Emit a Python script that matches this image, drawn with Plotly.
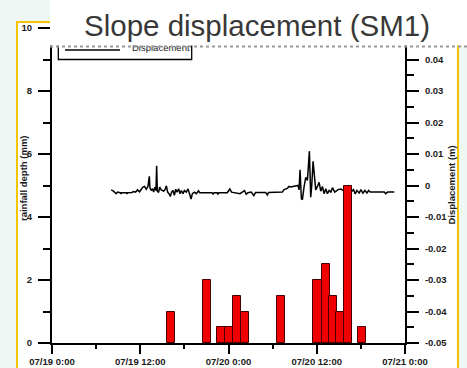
import plotly.graph_objects as go
import pandas as pd

BASE = pd.Timestamp("2013-07-19 00:00")

# Rainfall (hourly) - hours after 07/19 0:00 and depth in mm
rain_hours = [16.2, 21.1, 23.0, 24.1, 25.1, 26.2, 31.1, 36.1, 37.2, 38.2, 39.2, 40.3, 42.2]
rain_mm = [1.0, 2.0, 0.5, 0.5, 1.5, 1.0, 1.5, 2.0, 2.5, 1.5, 1.0, 5.0, 0.5]

# Displacement - hours after 07/19 0:00 and displacement in m
disp_hours = [8.05, 8.36, 8.73, 8.91, 9.27, 9.36, 9.45, 10.09, 10.18, 10.27,
              10.86, 11.09, 11.36, 11.64, 11.91, 12.09, 12.36, 12.59, 12.82, 13.05,
              13.23, 13.32, 13.5, 13.68, 13.82, 14.0, 14.14, 14.23, 14.32, 14.5,
              14.64, 14.86, 15.18, 15.36, 15.55, 15.73, 15.91, 16.09, 16.27, 16.45,
              16.64, 16.82, 17.0, 17.23, 17.41, 17.59, 17.82, 18.0, 18.27, 18.5,
              18.73, 18.91, 19.09, 19.36, 19.64, 19.91, 20.09, 21.77, 21.91, 22.05,
              22.45, 22.55, 22.68, 23.82, 23.95, 24.18, 24.41, 24.73, 25.55, 25.82,
              26.18, 26.41, 26.64, 27.09, 27.45, 27.68, 29.05, 29.27, 29.45, 31.32,
              31.55, 32.0, 32.23, 32.45, 33.14, 33.45, 33.59, 33.73, 33.91, 34.05,
              34.27, 34.5, 34.73, 35.0, 35.18, 35.32, 35.5, 35.68, 35.86, 36.09,
              36.32, 36.55, 36.77, 37.0, 37.23, 37.45, 37.68, 37.91, 38.14, 38.45,
              38.91, 39.27, 39.73, 40.64, 41.0, 41.23, 41.45, 41.77, 42.0, 42.27,
              42.55, 42.82, 43.05, 43.27, 45.18, 45.36, 45.64, 46.55]
disp_m = [-0.0014, -0.0018, -0.0026, -0.0021, -0.0023, -0.0027, -0.0023, -0.0023, -0.0027, -0.0023,
          -0.0022, -0.0019, -0.0021, -0.0014, -0.0020, -0.0012, -0.0005, -0.0003, -0.0012, -0.0003,
          0.0029, -0.0007, -0.0016, -0.0010, -0.0021, -0.0005, -0.0016, 0.0063, -0.0018, -0.0022,
          -0.0005, -0.0014, -0.0018, -0.0014, -0.0001, -0.0021, -0.0026, -0.0035, -0.0021, -0.0016,
          -0.0031, -0.0012, -0.0021, -0.0011, -0.0026, -0.0016, -0.0026, -0.0016, -0.0021, -0.0011,
          -0.0035, -0.0043, -0.0026, -0.0021, -0.0026, -0.0017, -0.0023, -0.0023, -0.0027, -0.0023,
          -0.0023, -0.0028, -0.0023, -0.0023, -0.0019, -0.0011, -0.0021, -0.0023, -0.0026, -0.0022,
          -0.0016, -0.0028, -0.0023, -0.0021, -0.0032, -0.0022, -0.0022, -0.0030, -0.0022, -0.0021,
          -0.0013, -0.0009, -0.0003, -0.0005, -0.0003, 0.0000, -0.0014, 0.0050, -0.0042, -0.0045,
          -0.0005, 0.0026, 0.0016, 0.0109, -0.0037, 0.0000, 0.0077, 0.0016, -0.0014, -0.0003,
          0.0010, -0.0018, -0.0003, -0.0026, -0.0010, -0.0026, -0.0016, -0.0021, -0.0007, -0.0021,
          -0.0013, -0.0011, -0.0018, -0.0021, -0.0013, -0.0027, -0.0016, -0.0024, -0.0013, -0.0024,
          -0.0016, -0.0024, -0.0016, -0.0021, -0.0021, -0.0026, -0.0021, -0.0021]

# Tick labels (the 0.05 label is hidden under the title box in the reference)
disp_tickvals = [-0.05, -0.04, -0.03, -0.02, -0.01, 0.0, 0.01, 0.02, 0.03, 0.04]
disp_ticktext = ["-0.05", "-0.04", "-0.03", "-0.02", "-0.01", "0", "0.01", "0.02", "0.03", "0.04"]
disp_minorvals = [-0.045, -0.035, -0.025, -0.015, -0.005, 0.005, 0.015, 0.025, 0.035, 0.045]

TITLE = "Slope displacement (SM1)"
LEFT_TITLE = "rainfall depth (mm)"
RIGHT_TITLE = "Displacement (m)"
LEGEND_TEXT = "Displacement"

W, H = 467, 368
L, R, T, B = 52, 405, 28, 343


def px(x):
    return (x - L) / (R - L)


def py(y):
    return (B - y) / (B - T)


def times(hs):
    return [BASE + pd.Timedelta(hours=h) for h in hs]


FONT = "Arial, Liberation Sans, sans-serif"
tickfont = dict(family=FONT, size=9.5, color="#1a1a1a", weight="bold")

fig = go.Figure()
fig.add_trace(go.Scatter(
    x=times(disp_hours), y=disp_m, mode="lines",
    line=dict(color="black", width=1.5), yaxis="y", name=LEGEND_TEXT,
    showlegend=False))
fig.add_trace(go.Bar(
    x=times(rain_hours), y=rain_mm, width=[1.1 * 3600000] * len(rain_hours),
    marker=dict(color="#f00000", line=dict(color="#4a0000", width=1)),
    yaxis="y2", name="rainfall", showlegend=False))

axis_common = dict(showgrid=False, zeroline=False, showline=True, linecolor="black",
                   linewidth=2, ticks="outside", tickcolor="black", tickwidth=2,
                   tickfont=tickfont, automargin=False)

fig.update_layout(
    width=W, height=H,
    margin=dict(l=L, r=W - R, t=T, b=H - B, pad=0, autoexpand=False),
    paper_bgcolor="#eef7f3",
    plot_bgcolor="white",
    showlegend=False,
    bargap=0,
    xaxis=dict(type="date", range=[BASE, BASE + pd.Timedelta(hours=48)],
               tick0=BASE, dtick=43200000, tickformat="%m/%d %-H:%M", ticklen=9,
               minor=dict(dtick=21600000, tick0=BASE, ticks="outside", ticklen=4,
                          tickwidth=1.5, tickcolor="black"),
               **axis_common),
    yaxis=dict(side="right", anchor="x", range=[-0.05, 0.05],
               tickmode="array", tickvals=disp_tickvals, ticktext=disp_ticktext,
               ticklen=12, ticklabelstandoff=4,
               minor=dict(tickmode="array", tickvals=disp_minorvals, ticks="outside",
                          ticklen=7, tickwidth=1.5, tickcolor="black"),
               **axis_common),
    yaxis2=dict(side="left", anchor="x", overlaying="y", range=[0, 10], dtick=2,
                ticklen=12, ticklabelstandoff=4,
                minor=dict(dtick=1, ticks="outside", ticklen=7, tickwidth=1.5,
                           tickcolor="black"),
                **axis_common),
)

shapes = [
    # white chart picture with yellow frame
    dict(type="rect", xref="paper", yref="paper", x0=px(17), x1=px(458), y0=py(385), y1=py(22),
         fillcolor="white", line=dict(color="#f5c400", width=2), layer="below"),
    # legend box
    dict(type="rect", xref="paper", yref="paper", x0=px(58.3), x1=px(191.7), y0=py(59.5), y1=py(36),
         fillcolor="white", line=dict(color="black", width=1.3), layer="above"),
    dict(type="line", xref="paper", yref="paper", x0=px(65), x1=px(120), y0=py(50), y1=py(50),
         line=dict(color="black", width=1.5), layer="above"),
    dict(type="rect", xref="paper", yref="paper", x0=px(126), x1=px(190), y0=py(53), y1=py(41),
         fillcolor="rgba(0,0,0,0)", line=dict(width=0), layer="above",
         label=dict(text=LEGEND_TEXT, textposition="middle left",
                    font=dict(family=FONT, size=9.5, color="#222"))),
    # title box
    dict(type="rect", xref="paper", yref="paper", x0=px(50), x1=px(475), y0=py(45.5), y1=py(-5),
         fillcolor="white", line=dict(width=0), layer="above"),
    dict(type="line", xref="paper", yref="paper", x0=px(50), x1=px(467), y0=py(46.5), y1=py(46.5),
         line=dict(color="#9a9a9a", width=2, dash="dot"), layer="above"),
]
fig.update_layout(shapes=shapes)

fig.add_annotation(text=TITLE, xref="paper", yref="paper", x=px(257), y=py(25.5),
                   xanchor="center", yanchor="middle", showarrow=False,
                   font=dict(family=FONT, size=29.5, color="#383838"))
fig.add_annotation(text=LEFT_TITLE, xref="paper", yref="paper", x=px(23), y=py(178),
                   xanchor="center", yanchor="middle", textangle=-90, showarrow=False,
                   font=dict(family=FONT, size=9.5, color="#1a1a1a", weight="bold"))
fig.add_annotation(text=RIGHT_TITLE, xref="paper", yref="paper", x=px(450.5), y=py(185),
                   xanchor="center", yanchor="middle", textangle=-90, showarrow=False,
                   font=dict(family=FONT, size=9.5, color="#1a1a1a", weight="bold"))

fig.write_html("out.html")
